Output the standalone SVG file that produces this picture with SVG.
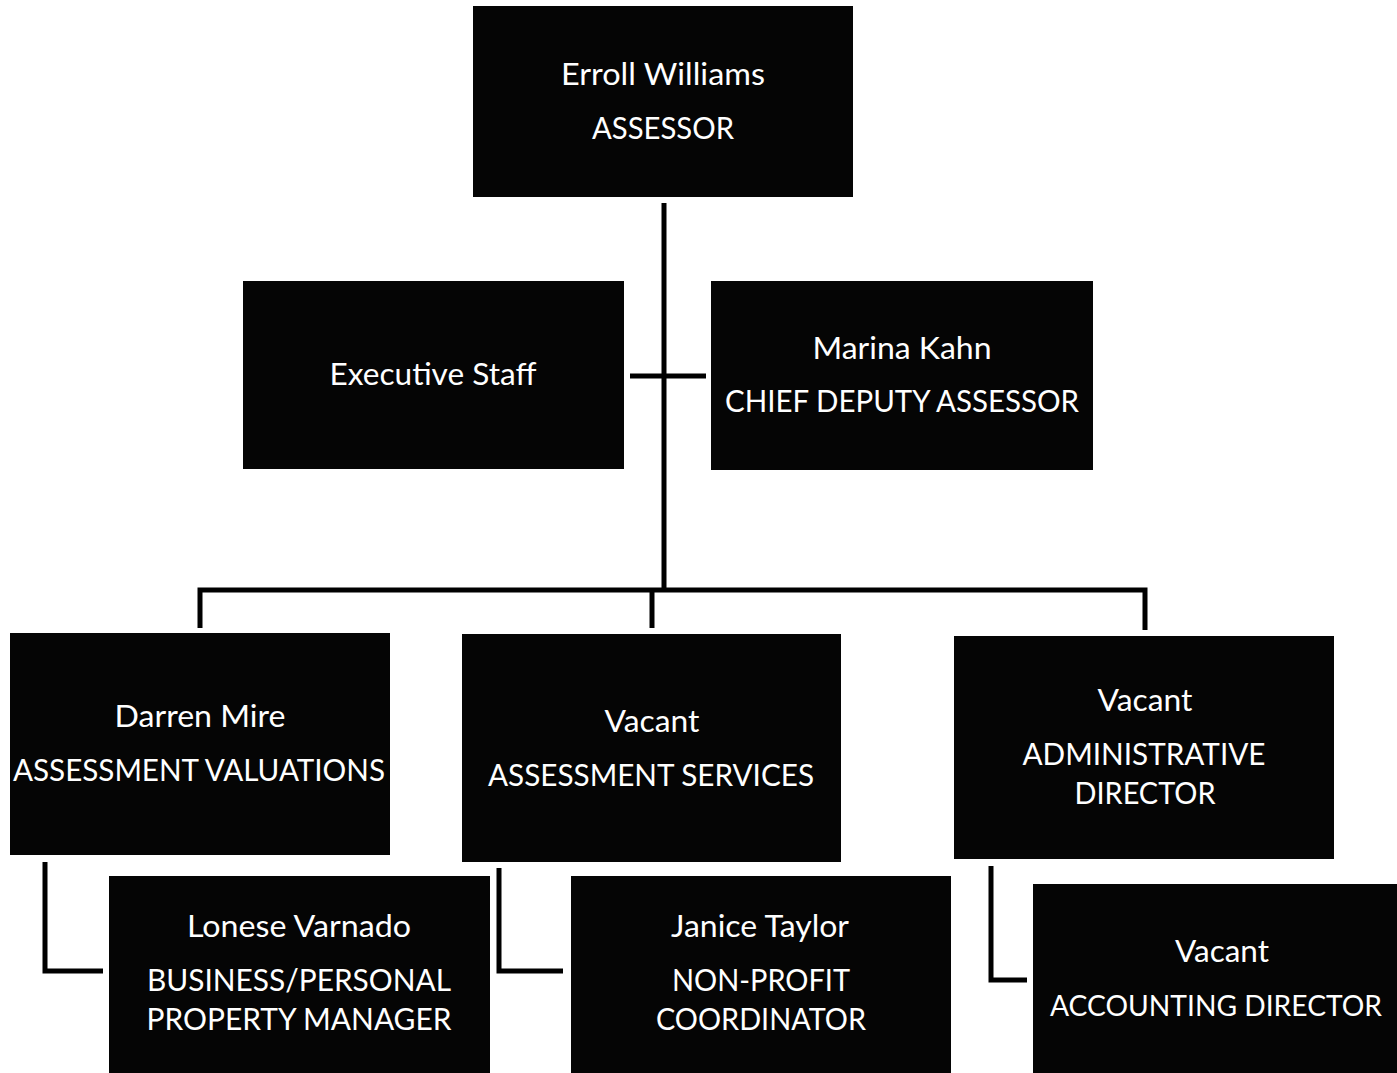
<svg xmlns="http://www.w3.org/2000/svg" width="1397" height="1073" viewBox="0 0 1397 1073">
<style>
.box{fill:#050505;}
.t{font-family:Lato,"Open Sans","Liberation Sans",sans-serif;font-size:30px;fill:#ffffff;text-anchor:middle;}
.c{fill:none;stroke:#000;stroke-width:5;}
</style>
<rect width="1397" height="1073" fill="#ffffff"/>
<g id="connectors">
<line class="c" x1="664" y1="203" x2="664" y2="590"/>
<line class="c" x1="630" y1="376" x2="706" y2="376"/>
<polyline class="c" points="200,628 200,590 1145,590 1145,630"/>
<line class="c" x1="652" y1="590" x2="652" y2="628"/>
<polyline class="c" points="45,862 45,971 103,971"/>
<polyline class="c" points="499,868 499,971 563,971"/>
<polyline class="c" points="991,866 991,980 1027,980"/>
</g>
<g id="assessor">
<rect class="box" x="473" y="6" width="380" height="191"/>
<text class="t" x="663" y="85" textLength="204" lengthAdjust="spacingAndGlyphs">Erroll Williams</text>
<text class="t" x="663" y="139" textLength="142" lengthAdjust="spacingAndGlyphs">ASSESSOR</text>
</g>
<g id="executive-staff">
<rect class="box" x="243" y="281" width="381" height="188"/>
<text class="t" x="433" y="385" textLength="207" lengthAdjust="spacingAndGlyphs">Executive Staff</text>
</g>
<g id="chief-deputy">
<rect class="box" x="711" y="281" width="382" height="189"/>
<text class="t" x="902" y="359" textLength="179" lengthAdjust="spacingAndGlyphs">Marina Kahn</text>
<text class="t" x="902" y="412" textLength="354" lengthAdjust="spacingAndGlyphs">CHIEF DEPUTY ASSESSOR</text>
</g>
<g id="assessment-valuations">
<rect class="box" x="10" y="633" width="380" height="222"/>
<text class="t" x="200" y="727" textLength="171" lengthAdjust="spacingAndGlyphs">Darren Mire</text>
<text class="t" x="199" y="781" textLength="372" lengthAdjust="spacingAndGlyphs">ASSESSMENT VALUATIONS</text>
</g>
<g id="assessment-services">
<rect class="box" x="462" y="634" width="379" height="228"/>
<text class="t" x="652" y="732" textLength="95" lengthAdjust="spacingAndGlyphs">Vacant</text>
<text class="t" x="651" y="786" textLength="326" lengthAdjust="spacingAndGlyphs">ASSESSMENT SERVICES</text>
</g>
<g id="administrative-director">
<rect class="box" x="954" y="636" width="380" height="223"/>
<text class="t" x="1145" y="711" textLength="95" lengthAdjust="spacingAndGlyphs">Vacant</text>
<text class="t" x="1144" y="765" textLength="243" lengthAdjust="spacingAndGlyphs">ADMINISTRATIVE</text>
<text class="t" x="1145" y="804" textLength="141" lengthAdjust="spacingAndGlyphs">DIRECTOR</text>
</g>
<g id="property-manager">
<rect class="box" x="109" y="876" width="381" height="197"/>
<text class="t" x="299" y="937" textLength="224" lengthAdjust="spacingAndGlyphs">Lonese Varnado</text>
<text class="t" x="299" y="991" textLength="304" lengthAdjust="spacingAndGlyphs">BUSINESS/PERSONAL</text>
<text class="t" x="299" y="1030" textLength="305" lengthAdjust="spacingAndGlyphs">PROPERTY MANAGER</text>
</g>
<g id="non-profit-coordinator">
<rect class="box" x="571" y="876" width="380" height="197"/>
<text class="t" x="760" y="937" textLength="178" lengthAdjust="spacingAndGlyphs">Janice Taylor</text>
<text class="t" x="761" y="991" textLength="178" lengthAdjust="spacingAndGlyphs">NON-PROFIT</text>
<text class="t" x="761" y="1030" textLength="210" lengthAdjust="spacingAndGlyphs">COORDINATOR</text>
</g>
<g id="accounting-director">
<rect class="box" x="1033" y="884" width="364" height="189"/>
<text class="t" x="1222" y="962" textLength="94" lengthAdjust="spacingAndGlyphs">Vacant</text>
<text class="t" x="1216" y="1016" style="font-size:29px" textLength="332" lengthAdjust="spacingAndGlyphs">ACCOUNTING DIRECTOR</text>
</g>
</svg>
